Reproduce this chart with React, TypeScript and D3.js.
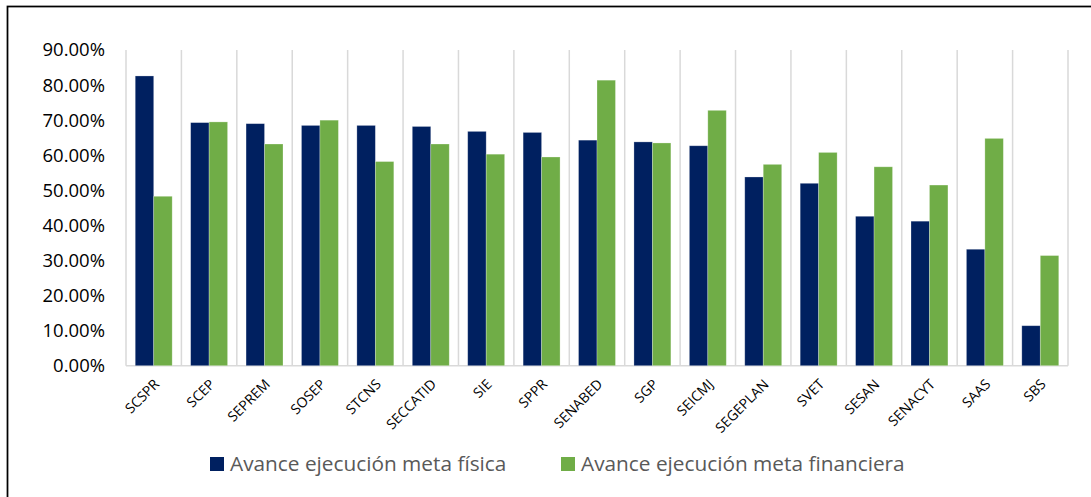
import * as d3 from 'd3';
import { useEffect, useRef } from 'react';

const categories = [
  'SCSPR', 'SCEP', 'SEPREM', 'SOSEP', 'STCNS', 'SECCATID', 'SIE', 'SPPR', 'SENABED',
  'SGP', 'SEICMJ', 'SEGEPLAN', 'SVET', 'SESAN', 'SENACYT', 'SAAS', 'SBS',
];
const metaFisica = [
  82.6, 69.3, 69.0, 68.5, 68.5, 68.2, 66.8, 66.5, 64.3, 63.8, 62.7, 53.8, 52.0, 42.6, 41.2, 33.2, 11.4,
];
const metaFinanciera = [
  48.3, 69.5, 63.2, 70.0, 58.2, 63.2, 60.3, 59.5, 81.4, 63.5, 72.8, 57.4, 60.8, 56.7, 51.5, 64.8, 31.4,
];
const yTicks = [0, 10, 20, 30, 40, 50, 60, 70, 80, 90];
const seriesNames = ['Avance ejecución meta física', 'Avance ejecución meta financiera'];
const seriesColors = ['#002060', '#70AD47'];

const W = 1091;
const H = 497;

export default function App() {
  const svgRef = useRef<SVGSVGElement>(null);

  useEffect(() => {
    if (!svgRef.current) return;
    const svg = d3.select(svgRef.current);
    svg.selectAll('*').remove();

    const plot = { left: 126, right: 1068, top: 50, bottom: 365.7 };

    const x = d3
      .scaleBand<string>()
      .domain(categories)
      .range([plot.left, plot.right])
      .paddingInner(1 / 3)
      .paddingOuter(1 / 6);
    const step = x.step();
    const xSub = d3.scaleBand<number>().domain([0, 1]).range([0, x.bandwidth()]);
    const y = d3.scaleLinear().domain([0, 90]).range([plot.bottom, plot.top]);

    // outer frame
    svg
      .append('rect')
      .attr('x', 7.5)
      .attr('y', 6.5)
      .attr('width', 1100)
      .attr('height', 510)
      .attr('fill', 'white')
      .attr('stroke', '#000')
      .attr('stroke-width', 1.75);

    // vertical gridlines between categories
    const gridXs = d3.range(categories.length + 1).map((i) => plot.left + i * step);
    svg
      .append('g')
      .selectAll('line')
      .data(gridXs)
      .join('line')
      .attr('x1', (d) => d)
      .attr('x2', (d) => d)
      .attr('y1', y(90))
      .attr('y2', y(0))
      .attr('stroke', '#D9D9D9')
      .attr('stroke-width', 1.5);

    // baseline
    svg
      .append('line')
      .attr('x1', plot.left)
      .attr('x2', plot.right)
      .attr('y1', y(0))
      .attr('y2', y(0))
      .attr('stroke', '#D9D9D9')
      .attr('stroke-width', 1.5);

    // y labels
    svg
      .append('g')
      .selectAll('text')
      .data(yTicks)
      .join('text')
      .attr('x', 105)
      .attr('y', (d) => y(d))
      .attr('dy', '0.35em')
      .attr('text-anchor', 'end')
      .style('font-family', "'Open Sans', sans-serif")
      .style('font-size', '18.5px')
      .attr('fill', '#000')
      .text((d) => `${d.toFixed(2)}%`);

    // bars
    const series = [metaFisica, metaFinanciera];
    series.forEach((vals, si) => {
      svg
        .append('g')
        .selectAll('rect')
        .data(vals)
        .join('rect')
        .attr('x', (_, i) => (x(categories[i]) ?? 0) + (xSub(si) ?? 0))
        .attr('y', (d) => y(d))
        .attr('width', xSub.bandwidth())
        .attr('height', (d) => y(0) - y(d))
        .attr('fill', seriesColors[si])
        .attr('stroke', 'rgba(255,255,255,0.35)')
        .attr('stroke-width', 0.75);
    });

    // x labels
    svg
      .append('g')
      .selectAll('text')
      .data(categories)
      .join('text')
      .attr('transform', (d) => {
        const cx = (x(d) ?? 0) + x.bandwidth() / 2 + 3;
        return `translate(${cx},${y(0) + 16}) rotate(-45)`;
      })
      .attr('text-anchor', 'end')
      .attr('dy', '0.35em')
      .style('font-family', "'Open Sans', sans-serif")
      .style('font-size', '14px')
      .attr('fill', '#000')
      .text((d) => d);

    // legend
    const legendItems = [
      { label: seriesNames[0], color: seriesColors[0], x: 210 },
      { label: seriesNames[1], color: seriesColors[1], x: 561 },
    ];
    const legend = svg.append('g').attr('transform', 'translate(0,464)');
    legendItems.forEach((item) => {
      legend
        .append('rect')
        .attr('x', item.x)
        .attr('y', -7)
        .attr('width', 14)
        .attr('height', 14)
        .attr('fill', item.color);
      legend
        .append('text')
        .attr('x', item.x + 20)
        .attr('y', 0)
        .attr('dy', '0.35em')
        .style('font-family', "'Open Sans', sans-serif")
        .style('font-size', '20.8px')
        .attr('fill', '#595959')
        .text(item.label);
    });
  }, []);

  return (
    <div style={{ position: 'fixed', left: 0, top: 0, width: W, height: H, background: '#fff' }}>
      <svg ref={svgRef} width={W} height={H} style={{ display: 'block' }} />
    </div>
  );
}
